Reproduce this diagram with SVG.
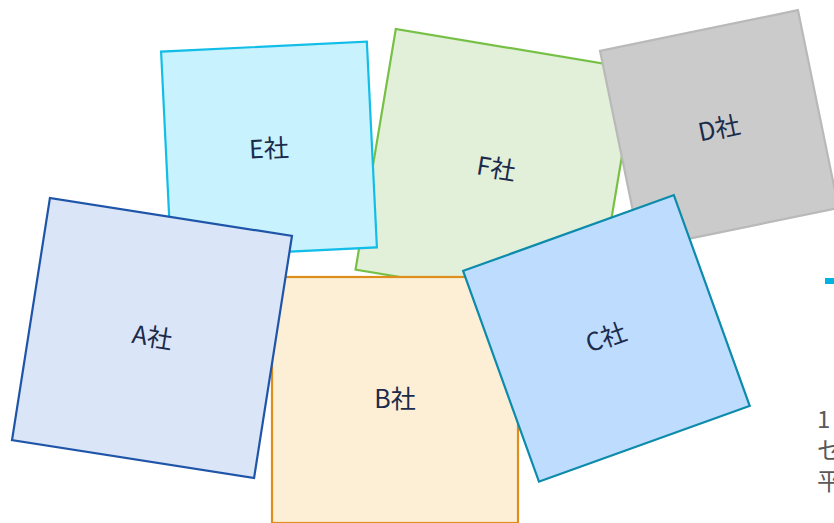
<svg xmlns="http://www.w3.org/2000/svg" width="834" height="523" viewBox="0 0 834 523">
<style>
.box{stroke-width:2.2;stroke-linejoin:miter}
.lbl{font-family:"Noto Sans CJK JP","Noto Sans",sans-serif;font-size:25px;fill:#1b2b4b;text-anchor:middle;dominant-baseline:central}
.side{font-family:"Noto Sans CJK JP","Noto Sans",sans-serif;font-size:24px;fill:#595959}
</style>
<rect width="834" height="523" fill="#ffffff"/>
<g id="F" transform="translate(496,169.4) rotate(9.5)">
<rect class="box" x="-122" y="-122" width="244" height="244" fill="#e2f0da" stroke="#77c046"/>
<text class="lbl" x="0" y="-3">F社</text>
</g>
<g id="D" transform="translate(719.3,129.4) rotate(-11.6)">
<rect class="box" x="-101" y="-101" width="202" height="202" fill="#cbcbcb" stroke="#b9b9b9"/>
<text class="lbl" x="0" y="-3">D社</text>
</g>
<g id="E" transform="translate(269,149.5) rotate(-2.8)">
<rect class="box" x="-103" y="-103" width="206" height="206" fill="#c8f2fe" stroke="#12bde8"/>
<text class="lbl" x="0" y="-3">E社</text>
</g>
<g id="B" transform="translate(395,400)">
<rect class="box" x="-123" y="-123" width="246" height="246" fill="#fdeed6" stroke="#dd8e1b"/>
<text class="lbl" x="0" y="-3">B社</text>
</g>
<g id="A" transform="translate(152,338) rotate(8.9)">
<rect class="box" x="-122.5" y="-122.5" width="245" height="245" fill="#dbe5f8" stroke="#1f55a8"/>
<text class="lbl" x="0" y="-3">A社</text>
</g>
<g id="C" transform="translate(606.4,338.4) rotate(-19.8)">
<rect class="box" x="-112" y="-112" width="224" height="224" fill="#bddcfe" stroke="#0c8bab"/>
<text class="lbl" x="0" y="-3">C社</text>
</g>
<g id="connectors"></g>
<rect x="825" y="278" width="9" height="6" fill="#00b4e1"/>
<text class="side" x="817" y="428">1</text>
<text class="side" x="817" y="459">セ</text>
<text class="side" x="817" y="490">平</text>
</svg>
